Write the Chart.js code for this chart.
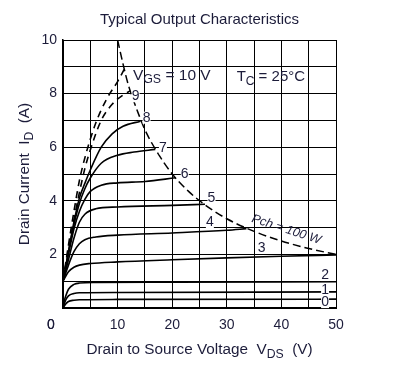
<!DOCTYPE html>
<html>
<head>
<meta charset="utf-8">
<script src="https://cdn.jsdelivr.net/npm/chart.js@4.4.1/dist/chart.umd.min.js"></script>
<style>
  html, body { margin: 0; padding: 0; background: #fff; }
  #wrap { width: 400px; height: 392px; }
</style>
</head>
<body>
<div id="wrap"><canvas id="ioChart" width="400" height="392"></canvas></div>
<script>
// curves: [V_DS (V), I_D (A)]
const vgs0 = [[0, 0], [0.5, 0.15], [1, 0.24], [2, 0.29], [3, 0.31], [10, 0.32], [50, 0.33]];
const vgs1 = [[0, 0], [0.5, 0.3], [1, 0.45], [2, 0.54], [3, 0.57], [10, 0.58], [50, 0.6]];
const vgs2 = [[0, 0.1], [0.5, 0.45], [1, 0.7], [2, 0.88], [3, 0.93], [6, 0.95], [20, 0.96], [50, 0.98]];
const vgs3 = [[0, 1.0], [1, 1.35], [2, 1.52], [3, 1.6], [5, 1.66], [10, 1.72], [20, 1.8], [30, 1.87], [40, 1.93], [50, 1.98]];
const vgs4 = [[0, 1.0], [1, 1.6], [2, 2.1], [3, 2.4], [4, 2.55], [6, 2.65], [10, 2.72], [20, 2.8], [30, 2.9], [33.6, 2.96]];
const vgs5 = [[0, 1.0], [1, 1.8], [2, 2.6], [3, 3.2], [4, 3.5], [6, 3.7], [10, 3.77], [20, 3.83], [26, 3.87]];
const vgs6 = [[0, 1.0], [1, 2.0], [2, 2.95], [3, 3.6], [4, 4.05], [5, 4.35], [7, 4.58], [10, 4.67], [15, 4.72], [20.6, 4.86]];
const vgs7 = [[0, 1.0], [1, 2.1], [2, 3.1], [3, 3.9], [4, 4.45], [5, 4.85], [7, 5.4], [10, 5.7], [13, 5.82], [16.9, 5.92]];
const vgs8 = [[0, 1.0], [1, 2.1], [2, 3.2], [3, 4.1], [4, 4.65], [5, 5.15], [7, 6.0], [9, 6.5], [11, 6.78], [14.2, 6.97]];
const vgs9 = [[0, 1.0], [1, 2.2], [2, 3.3], [3, 4.3], [4, 5.2], [5, 5.9], [7, 7.0], [9, 7.6], [11, 7.95], [12.3, 8.1]];
const vgs10 = [[0, 1.0], [1, 2.35], [2, 3.6], [3, 4.75], [4, 5.6], [6, 6.9], [8, 7.8], [10, 8.45], [11.2, 8.9]];
const pchLimit = [[10, 10], [11, 9.1], [12, 8.3], [13, 7.7], [14, 7.15], [15, 6.65], [17, 5.9], [20, 5.0], [23, 4.35],
                  [26, 3.85], [30, 3.33], [35, 2.86], [40, 2.5], [45, 2.22], [50, 2.0]];

const curves = [vgs0, vgs1, vgs2, vgs3, vgs4, vgs5, vgs6, vgs7, vgs8, vgs9, vgs10];
const dashedCurves = [9, 10];

// curve labels: text, V, I where the number sits
const curveTags = ['0', '1', '2', '3', '4', '5', '6', '7', '8', '9'];
const tagV = [48, 48, 48, 36.4, 26.9, 27.2, 22.3, 18.3, 15.3, 13.3];
const tagI = [0.22, 0.67, 1.23, 2.24, 3.2, 4.1, 5.0, 5.96, 7.1, 7.9];

const xTicks = [10, 20, 30, 40, 50];
const yTicks = [2, 4, 6, 8, 10];

const FONT = '"Liberation Sans", Arial, sans-serif';
const INK = '#1c1c3a';

function toPts(arr) {
    return arr.map(p => ({ x: p[0], y: p[1] }));
}

const datasets = curves.map((c, i) => ({
    data: toPts(c),
    borderColor: '#000',
    borderWidth: 1.6,
    borderDash: dashedCurves.includes(i) ? [7, 5] : [],
    pointRadius: 0,
    cubicInterpolationMode: 'monotone',
    fill: false
}));
datasets.push({
    data: toPts(pchLimit),
    borderColor: '#000',
    borderWidth: 1.5,
    borderDash: [8, 4],
    pointRadius: 0,
    cubicInterpolationMode: 'monotone',
    fill: false
});

// draws text pieces, some of them as subscripts
function drawRich(ctx, parts, x, y, size, align) {
    let w = 0;
    parts.forEach(p => {
        ctx.font = (p.sub ? size * 0.8 : size) + 'px ' + FONT;
        w += ctx.measureText(p.t).width;
    });
    let cx = align === 'center' ? x - w / 2 : x;
    ctx.textAlign = 'left';
    ctx.textBaseline = 'middle';
    parts.forEach(p => {
        ctx.font = (p.sub ? size * 0.8 : size) + 'px ' + FONT;
        ctx.fillText(p.t, cx, p.sub ? y + size * 0.3 : y);
        cx += ctx.measureText(p.t).width;
    });
}

const annotations = {
    id: 'annotations',
    afterDatasetsDraw(chart) {
        const { ctx, chartArea: a, scales: { x, y } } = chart;
        ctx.save();
        ctx.fillStyle = INK;

        // title
        ctx.font = '15px ' + FONT;
        ctx.textAlign = 'center';
        ctx.textBaseline = 'middle';
        ctx.fillText('Typical Output Characteristics', (a.left + a.right) / 2, 20);

        // curve numbers with a white patch behind
        ctx.font = '14px ' + FONT;
        curveTags.forEach((t, i) => {
            const px = x.getPixelForValue(tagV[i]);
            const py = y.getPixelForValue(tagI[i]);
            ctx.fillStyle = '#fff';
            ctx.fillRect(px - 4, py - 6, 8, 12);
            ctx.fillStyle = INK;
            ctx.fillText(t, px, py);
        });

        // VGS and TC
        drawRich(ctx, [{ t: 'V' }, { t: 'GS', sub: true }, { t: ' = 10 V' }],
            x.getPixelForValue(12.8), y.getPixelForValue(8.68), 15.5, 'left');
        drawRich(ctx, [{ t: 'T' }, { t: 'C', sub: true }, { t: ' = 25°C' }],
            x.getPixelForValue(31.8), y.getPixelForValue(8.62), 15, 'left');

        // power limit label along the dashed curve
        ctx.save();
        ctx.translate(x.getPixelForValue(40.9), y.getPixelForValue(2.93));
        ctx.rotate(18 * Math.PI / 180);
        ctx.font = 'italic 12.5px ' + FONT;
        ctx.textAlign = 'center';
        ctx.textBaseline = 'middle';
        ctx.fillText('Pch = 100 W', 0, 0);
        ctx.restore();

        // shared origin label
        ctx.font = '14px ' + FONT;
        ctx.textAlign = 'center';
        ctx.fillText('0', a.left - 12, a.bottom + 17);
        ctx.fillText('0', a.left - 12, a.bottom + 17);

        // axis titles
        drawRich(ctx, [{ t: 'Drain to Source Voltage  V' }, { t: 'DS', sub: true }, { t: '  (V)' }],
            (a.left + a.right) / 2, a.bottom + 42, 15.3, 'center');
        ctx.save();
        ctx.translate(25, (a.top + a.bottom) / 2);
        ctx.rotate(-Math.PI / 2);
        drawRich(ctx, [{ t: 'Drain Current  I' }, { t: 'D', sub: true }, { t: '  (A)' }], 0, 0, 15.3, 'center');
        ctx.restore();

        ctx.restore();
    }
};

new Chart(document.getElementById('ioChart'), {
    type: 'line',
    data: { datasets },
    options: {
        responsive: false,
        animation: false,
        layout: { padding: { left: 0, right: 64, top: 40, bottom: 0 } },
        plugins: {
            legend: { display: false },
            tooltip: { enabled: false },
            title: { display: false }
        },
        scales: {
            x: {
                type: 'linear',
                min: 0,
                max: 50,
                ticks: {
                    stepSize: 5,
                    autoSkip: false,
                    maxRotation: 0,
                    padding: 9,
                    color: INK,
                    font: { family: FONT, size: 14 },
                    callback: v => xTicks.includes(v) ? v : ''
                },
                grid: { color: '#000', lineWidth: 1, drawTicks: false },
                border: { color: '#000', width: 2 },
                afterFit(s) { s.height = 84; }
            },
            y: {
                min: 0,
                max: 10,
                ticks: {
                    stepSize: 1,
                    autoSkip: false,
                    padding: 6,
                    color: INK,
                    font: { family: FONT, size: 14 },
                    callback: v => yTicks.includes(v) ? v : ''
                },
                grid: { color: '#000', lineWidth: 1, drawTicks: false },
                border: { color: '#000', width: 1.5 },
                afterFit(s) { s.width = 63; }
            }
        }
    },
    plugins: [annotations]
});
</script>
</body>
</html>
